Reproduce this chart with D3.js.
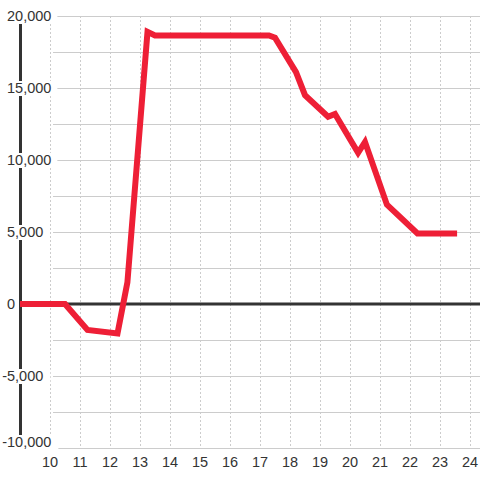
<!DOCTYPE html>
<html><head><meta charset="utf-8">
<script src="https://cdn.jsdelivr.net/npm/d3@7"></script>
<style>body{margin:0;background:#fff}svg{display:block}text{font-family:"Liberation Sans",Arial,sans-serif}</style>
</head><body><svg id="c" width="480" height="480"></svg>
<script>
const hours  = [9, 10.5, 11.25, 12.25, 12.58, 13.25, 13.5, 17.3, 17.5, 18.2, 18.5, 19.27, 19.5, 20.27, 20.5, 21.23, 22.25, 23.57];
const values = [0, 0, -1800, -2050, 1500, 18900, 18650, 18650, 18500, 16100, 14500, 13000, 13200, 10500, 11250, 6900, 4900, 4900];
const xTicks = [10,11,12,13,14,15,16,17,18,19,20,21,22,23,24];
const yTicks = [-10000,-5000,0,5000,10000,15000,20000];
const yGrid = [-10000,-7500,-5000,-2500,0,2500,5000,7500,10000,12500,15000,17500,20000];

const svg = d3.select("#c");
const x = d3.scaleLinear().domain([9, 24.3333]).range([20, 480]);
const y = d3.scaleLinear().domain([-10000, 20000]).range([448, 16]);

// horizontal grid
svg.append("g").selectAll("line").data(yGrid).join("line")
  .attr("x1", 53).attr("x2", 480)
  .attr("y1", d => Math.round(y(d)) + 0.5).attr("y2", d => Math.round(y(d)) + 0.5)
  .attr("stroke", "#cccccc").attr("stroke-width", 1);

// vertical dashed grid
svg.append("g").selectAll("line").data(xTicks).join("line")
  .attr("x1", d => Math.round(x(d)) + 0.5).attr("x2", d => Math.round(x(d)) + 0.5)
  .attr("y1", 16).attr("y2", 448)
  .attr("stroke", "#cccccc").attr("stroke-width", 1).attr("stroke-dasharray", "2,2");

// zero line
svg.append("line").attr("x1", 20).attr("x2", 480)
  .attr("y1", y(0)).attr("y2", y(0))
  .attr("stroke", "#333333").attr("stroke-width", 3);

// y axis line
svg.append("line").attr("x1", 20.5).attr("x2", 20.5)
  .attr("y1", 16).attr("y2", 448)
  .attr("stroke", "#333333").attr("stroke-width", 3);

// y labels with white backgrounds
const fmt = d3.format(",");
const yl = svg.append("g").selectAll("g").data(yTicks).join("g")
  .attr("transform", d => `translate(7,${y(d) + (d === -10000 ? -6 : 0)})`);
yl.append("rect").attr("x", d => d < 0 ? -6 : -1).attr("y", -7)
  .attr("width", d => (d < 0 ? 6 : 0) + 1 + 8.06 * (fmt(Math.abs(d)).length) + 2)
  .attr("height", 15).attr("fill", "#fff");
yl.append("text")
  .attr("dx", d => d < 0 ? "-0.333em" : 0)
  .attr("dy", "0.35em")
  .attr("font-size", 14.5).attr("fill", "#333")
  .text(d => d < 0 ? "-" + fmt(-d) : fmt(d));

// x labels
svg.append("g").selectAll("text").data(xTicks).join("text")
  .attr("x", d => x(d)).attr("y", 462).attr("dy", "0.35em")
  .attr("text-anchor", "middle").attr("font-size", 14.5).attr("fill", "#333")
  .text(d => d);

// data line
const pts = hours.map((h, i) => [h, values[i]]);
svg.append("path").datum(pts)
  .attr("d", d3.line().x(d => x(d[0])).y(d => y(d[1])))
  .attr("fill", "none").attr("stroke", "#ee1f36").attr("stroke-width", 6)
  .attr("stroke-linejoin", "miter");
</script></body></html>
